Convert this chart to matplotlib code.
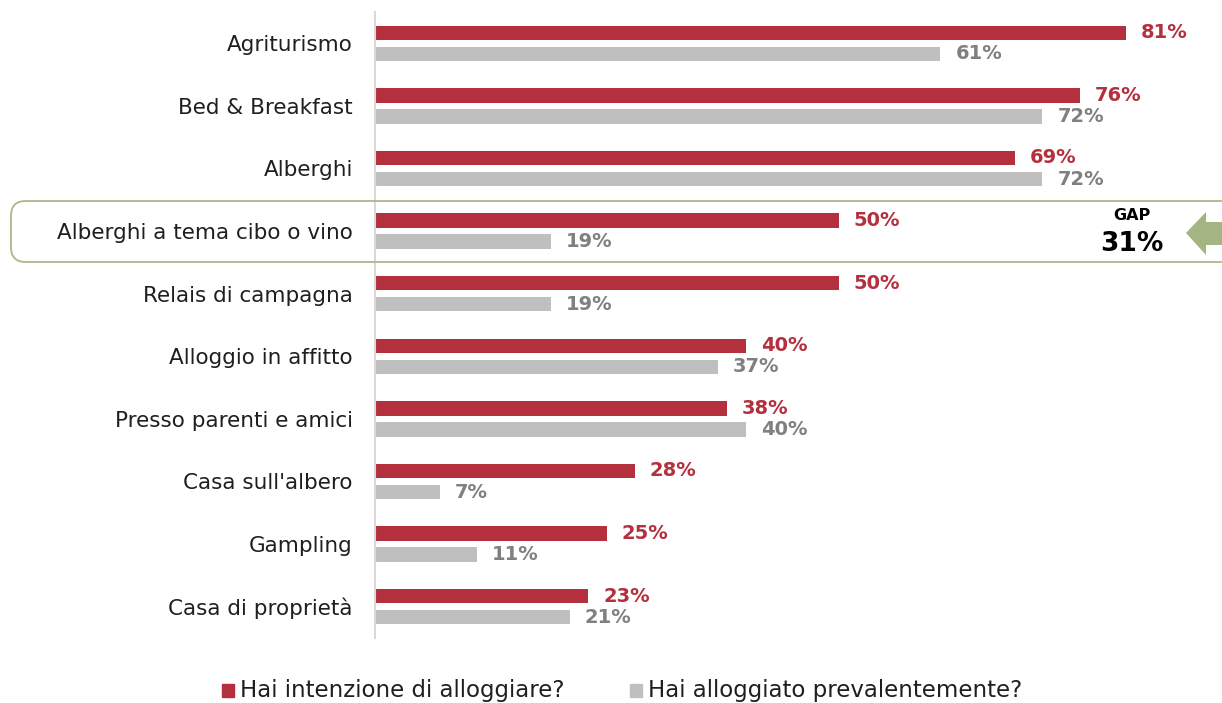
import matplotlib
matplotlib.use("Agg")
import matplotlib.pyplot as plt
from matplotlib.patches import FancyBboxPatch, Polygon, Rectangle
import numpy as np

categories = ["Agriturismo", "Bed & Breakfast", "Alberghi", "Alberghi a tema cibo o vino",
              "Relais di campagna", "Alloggio in affitto", "Presso parenti e amici",
              "Casa sull'albero", "Gampling", "Casa di proprietà"]
intenzione = [81, 76, 69, 50, 50, 40, 38, 28, 25, 23]
alloggiato = [61, 72, 72, 19, 19, 37, 40, 7, 11, 21]
series_names = ["Hai intenzione di alloggiare?", "Hai alloggiato prevalentemente?"]
gap_label = "GAP"
gap_value = "31%"

RED = "#B5303E"
GREY = "#BFBFBF"
GREY_TXT = "#808080"
GREEN = "#A9B98A"
FONT = "DejaVu Sans"
TXT = "#1f1f1f"

W, H = 1222, 703
fig = plt.figure(figsize=(W/100, H/100), dpi=100)
ax_l, ax_r, ax_t, ax_b = 375, 1222, 12, 638
ax = fig.add_axes([ax_l/W, 1-ax_b/H, (ax_r-ax_l)/W, (ax_b-ax_t)/H])
ppu = 9.27
ax.set_xlim(0, (ax_r-ax_l)/ppu)
ax.set_ylim(len(categories)-0.5, -0.5)

y = np.arange(len(categories))
h = 0.23
off = 0.168
ax.barh(y-off, intenzione, height=h, color=RED)
ax.barh(y+off, alloggiato, height=h, color=GREY)
for i in range(len(categories)):
    ax.text(intenzione[i]+1.6, y[i]-off, f"{intenzione[i]}%", color=RED, fontsize=14,
            fontweight="bold", va="center", ha="left", family=FONT)
    ax.text(alloggiato[i]+1.6, y[i]+off, f"{alloggiato[i]}%", color=GREY_TXT, fontsize=14,
            fontweight="bold", va="center", ha="left", family=FONT)

ax.set_yticks(y)
ax.set_yticklabels(categories, fontsize=15.5, family=FONT, color=TXT)
ax.tick_params(axis="y", length=0, pad=16)
ax.set_xticks([])
for s in ["top", "right", "bottom"]:
    ax.spines[s].set_visible(False)
ax.spines["left"].set_color("#D9D9D9")
ax.spines["left"].set_linewidth(1.5)

def fx(px): return px/W
def fy(py): return 1-py/H

box = FancyBboxPatch((fx(11), fy(262)), fx(1240)-fx(11), fy(201)-fy(262),
                     boxstyle="round,pad=0,rounding_size=0.012", transform=fig.transFigure,
                     facecolor="none", edgecolor=GREEN, linewidth=1.3, zorder=0,
                     mutation_aspect=W/H)
fig.patches.append(box)

fig.text(fx(1132), fy(215), gap_label, fontsize=11.5, fontweight="bold", ha="center", va="center", family=FONT)
fig.text(fx(1132), fy(244), gap_value, fontsize=19, fontweight="bold", ha="center", va="center", family=FONT)

arrow_px = [(1186, 233), (1206, 212), (1206, 222), (1224, 222), (1224, 245), (1206, 245), (1206, 255)]
arrow = Polygon([(fx(a), fy(b)) for a, b in arrow_px], closed=True, transform=fig.transFigure,
                facecolor="#A3B583", edgecolor="none")
fig.patches.append(arrow)

fig.patches.append(Rectangle((fx(222), fy(697)), fx(12), (fy(684)-fy(697)), transform=fig.transFigure, color=RED))
fig.text(fx(240), fy(690), series_names[0], fontsize=16.5, va="center", ha="left", family=FONT, color=TXT)
fig.patches.append(Rectangle((fx(630), fy(697)), fx(12), (fy(684)-fy(697)), transform=fig.transFigure, color=GREY))
fig.text(fx(648), fy(690), series_names[1], fontsize=16.5, va="center", ha="left", family=FONT, color=TXT)

fig.savefig("out.png", dpi=100)
